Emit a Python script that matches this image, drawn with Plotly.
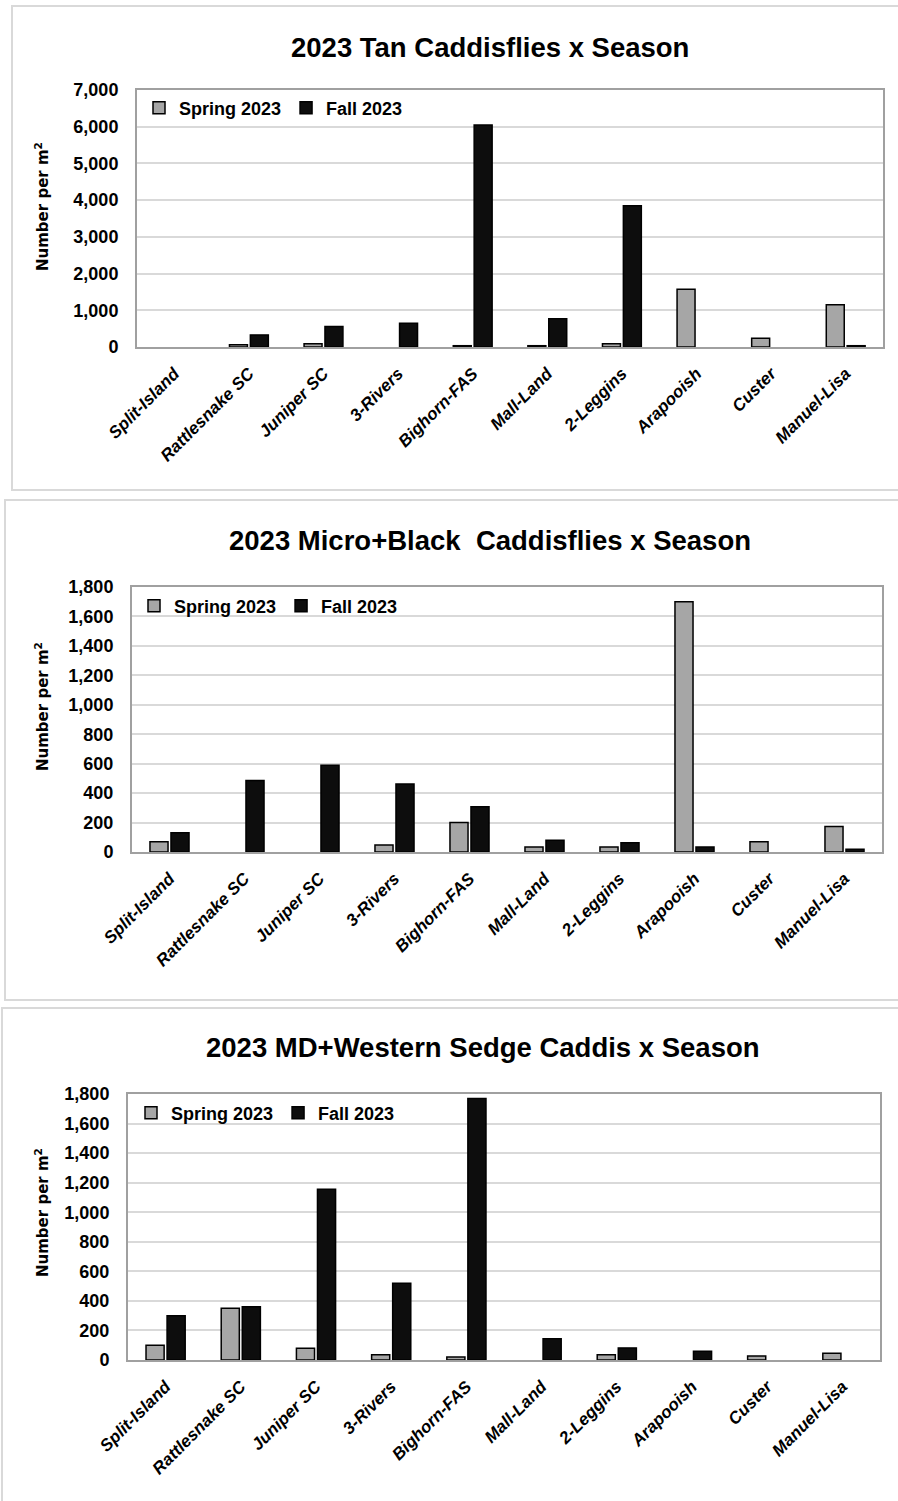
import plotly.graph_objects as go

W, H = 898, 1501

sites = ["Split-Island", "Rattlesnake SC", "Juniper SC", "3-Rivers", "Bighorn-FAS",
         "Mall-Land", "2-Leggins", "Arapooish", "Custer", "Manuel-Lisa"]

tan_spring = [0, 60, 90, 0, 35, 35, 90, 1570, 240, 1150]
tan_fall = [0, 330, 560, 650, 6050, 770, 3850, 0, 0, 35]

micro_spring = [70, 0, 0, 48, 200, 34, 34, 1700, 70, 174]
micro_fall = [130, 485, 590, 462, 308, 79, 63, 34, 0, 18]

md_spring = [100, 350, 80, 36, 20, 0, 36, 0, 27, 45]
md_fall = [300, 360, 1155, 520, 1770, 143, 82, 59, 0, 0]

titles = ["2023 Tan Caddisflies x Season",
          "2023 Micro+Black  Caddisflies x Season",
          "2023 MD+Western Sedge Caddis x Season"]
y_max = [7000, 1800, 1800]
y_step = [1000, 200, 200]
series_names = ["Spring 2023", "Fall 2023"]

SANS = "Liberation Sans, Arial, sans-serif"
WIDE = "DejaVu Sans, Verdana, sans-serif"

def px(x):
    return x / W

def py(y):
    return 1 - y / H

# plot-area boxes (pixels): left, right, top, bottom
boxes = [(137, 883, 90, 347), (132, 882, 587, 852), (128, 880, 1094, 1360)]
title_pos = [(490, 48), (490, 540), (483, 1047)]
ytitle_pos = [(42, 207), (42, 707), (42, 1213)]
legend_pos = [(139, 108), (134, 606), (131, 1113)]
panels = [(12, 6, 905, 490), (5, 500, 905, 1000), (2, 1008, 905, 1510)]

data = [(tan_spring, tan_fall), (micro_spring, micro_fall), (md_spring, md_fall)]

def shown(vals):
    # zero values are not drawn (no empty outline at the baseline)
    return [v if v > 0 else None for v in vals]

fig = go.Figure()
for i, (sp, fa) in enumerate(data):
    ax = "" if i == 0 else str(i + 1)
    leg = "legend" if i == 0 else f"legend{i + 1}"
    fig.add_trace(go.Bar(x=sites, y=shown(sp), name=series_names[0],
                         marker=dict(color="#A6A6A6", line=dict(color="#000000", width=1.5)),
                         xaxis="x" + ax, yaxis="y" + ax, legend=leg))
    fig.add_trace(go.Bar(x=sites, y=shown(fa), name=series_names[1],
                         marker=dict(color="#0D0D0D", line=dict(color="#000000", width=1.5)),
                         xaxis="x" + ax, yaxis="y" + ax, legend=leg))

layout = dict(
    width=W, height=H,
    margin=dict(l=0, r=0, t=0, b=0, pad=0),
    paper_bgcolor="white", plot_bgcolor="white",
    barmode="group", bargap=0.44, bargroupgap=0.14,
    showlegend=True,
    shapes=[], annotations=[],
)

for i in range(3):
    l, r, t, b = boxes[i]
    ax = "" if i == 0 else str(i + 1)
    layout["xaxis" + ax] = dict(
        domain=[px(l), px(r)], anchor="y" + ax, automargin=False,
        showgrid=False, showline=True, mirror=True, linecolor="#A0A0A0", linewidth=2,
        ticks="", tickangle=-45, ticklabelstandoff=8,
        tickfont=dict(family=SANS, size=17, color="#000000", weight="bold", style="italic"),
        fixedrange=True,
    )
    layout["yaxis" + ax] = dict(
        domain=[py(b), py(t)], anchor="x" + ax, automargin=False,
        range=[0, y_max[i]], dtick=y_step[i], tick0=0, tickformat=",d",
        showgrid=True, gridcolor="#D9D9D9", gridwidth=2,
        showline=True, mirror=True, linecolor="#A0A0A0", linewidth=2,
        zeroline=False, ticks="", ticklabelstandoff=13,
        tickfont=dict(family=SANS, size=18, color="#000000", weight="bold"),
        fixedrange=True,
    )
    lx, ly = legend_pos[i]
    legkey = "legend" if i == 0 else f"legend{i + 1}"
    layout[legkey] = dict(
        orientation="h", x=px(lx), y=py(ly), xanchor="left", yanchor="middle",
        bgcolor="rgba(0,0,0,0)", borderwidth=0,
        font=dict(family=SANS, size=18, color="#000000", weight="bold"),
        itemclick=False, itemdoubleclick=False,
    )
    tx, ty = title_pos[i]
    layout["annotations"].append(dict(
        text=titles[i], x=px(tx), y=py(ty), xref="paper", yref="paper",
        xanchor="center", yanchor="middle", showarrow=False,
        font=dict(family=SANS, size=27.5, color="#000000", weight="bold"),
    ))
    yx, yy = ytitle_pos[i]
    layout["annotations"].append(dict(
        text="Number per m<sup>2</sup>", x=px(yx), y=py(yy), xref="paper", yref="paper",
        xanchor="center", yanchor="middle", showarrow=False, textangle=-90,
        font=dict(family=WIDE, size=15, color="#000000", weight="bold"),
    ))
    x0, y0, x1, y1 = panels[i]
    layout["shapes"].append(dict(
        type="rect", xref="paper", yref="paper",
        x0=px(x0), x1=px(x1), y0=py(y1), y1=py(y0),
        line=dict(color="#D9D9D9", width=2), fillcolor="rgba(0,0,0,0)", layer="below",
    ))

fig.update_layout(**layout)
fig.write_html("out.html")
